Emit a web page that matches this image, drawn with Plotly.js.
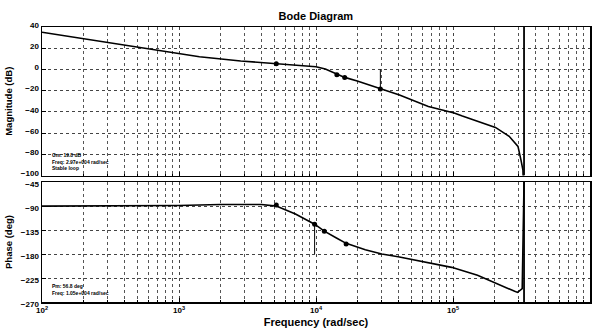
<!DOCTYPE html>
<html>
<head>
<meta charset="utf-8">
<script src="https://cdn.plot.ly/plotly-3.0.1.min.js"></script>
<style>html,body{margin:0;padding:0;background:#fff;}#chart{width:596px;height:329px;}</style>
</head>
<body>
<div id="chart"></div>
<script>
// Magnitude response (rad/sec, dB)
const magFreq = [100, 316, 1000, 1410, 2820, 5130, 7590, 1.0e4, 1.17e4, 1.41e4, 1.62e4, 2.0e4, 2.95e4, 4.07e4, 6.61e4, 1.02e5, 1.17e5, 2.04e5, 2.57e5, 2.98e5, 3.13e5, 3.24e5, 3.30e5];
const magDb   = [35, 25, 15, 12, 8, 5.3, 4, 2.5, 0.5, -4, -7.5, -11, -18.5, -24, -35, -41, -44, -54.7, -63, -72.6, -85, -95, -130];
// Phase response (rad/sec, deg)
const phaseFreq = [100, 316, 1000, 2000, 4000, 5130, 7080, 9770, 1.15e4, 1.41e4, 1.66e4, 2.29e4, 3.02e4, 3.98e4, 6.61e4, 9.77e4, 1.51e5, 2.04e5, 2.82e5, 2.96e5, 3.2e5, 3.3e5];
const phaseDeg  = [-90, -90, -89, -87, -87, -90, -105, -124, -137, -150, -160, -172, -180, -185, -196, -205, -220, -235, -250, -252, -245, -45];
// data-tip markers
const magMarkFreq = [5130, 1.42e4, 1.62e4, 2.95e4];
const magMarkDb   = [5.3, -5, -7.5, -18.5];
const phMarkFreq  = [5130, 9770, 1.15e4, 1.66e4];
const phMarkDeg   = [-88, -124, -137, -161];
// stability margins
const gmFreq = [2.95e4, 2.95e4];
const gmDb   = [0, -18.5];
const pmFreq = [9770, 9770];
const pmDeg  = [-180, -124];
const nyqFreq = [3.3e5, 3.3e5];
const nyqMag  = [-100, 40];
const nyqPh   = [-270, -45];
// ticks
const xTickVals = [1e2, 1e3, 1e4, 1e5, 1e6];
const xTickText = ['10<sup>2</sup>', '10<sup>3</sup>', '10<sup>4</sup>', '10<sup>5</sup>', '10<sup>6</sup>'];
const magTicks = [40, 20, 0, -20, -40, -60, -80, -100];
const phTicks = [-45, -90, -135, -180, -225, -270];
const gmText = ['Gm: 19.8 dB', 'Freq: 2.97e+004 rad/sec', 'Stable loop'];
const pmText = ['Pm: 56.8 deg', 'Freq: 1.05e+004 rad/sec'];

const minorVals = [];
for (let d = 2; d < 6; d++) for (let k = 2; k <= 9; k++) minorVals.push(k * Math.pow(10, d));

const F = 'Liberation Sans, Arial, sans-serif';
const line = {color: '#000', width: 1.6};
const traces = [
  {x: magFreq, y: magDb, xaxis: 'x', yaxis: 'y', mode: 'lines', line: line},
  {x: phaseFreq, y: phaseDeg, xaxis: 'x2', yaxis: 'y2', mode: 'lines', line: line},
  {x: magMarkFreq, y: magMarkDb, xaxis: 'x', yaxis: 'y', mode: 'markers', marker: {color: '#000', size: 5}},
  {x: phMarkFreq, y: phMarkDeg, xaxis: 'x2', yaxis: 'y2', mode: 'markers', marker: {color: '#000', size: 5}},
  {x: gmFreq, y: gmDb, xaxis: 'x', yaxis: 'y', mode: 'lines', line: {color: '#000', width: 1}},
  {x: pmFreq, y: pmDeg, xaxis: 'x2', yaxis: 'y2', mode: 'lines', line: {color: '#000', width: 1}},
  {x: nyqFreq, y: nyqMag, xaxis: 'x', yaxis: 'y', mode: 'lines', line: {color: '#000', width: 1.8}},
  {x: nyqFreq, y: nyqPh, xaxis: 'x2', yaxis: 'y2', mode: 'lines', line: {color: '#000', width: 1.8}}
];

const tickFont = {family: F, size: 8, color: '#000', weight: 'bold'};
const gridCommon = {showgrid: true, gridcolor: '#444', griddash: 'dot', gridwidth: 1,
  showline: true, linecolor: '#000', linewidth: 1.5, mirror: true, ticks: 'inside', ticklen: 4, tickcolor: '#000',
  zeroline: false, tickfont: tickFont};
const xCommon = Object.assign({}, gridCommon, {type: 'log', range: [2, 6], tickmode: 'array', tickvals: xTickVals, ticktext: xTickText,
  minor: {tickmode: 'array', tickvals: minorVals, showgrid: true, gridcolor: '#555', griddash: 'dot', gridwidth: 1, ticks: 'inside', ticklen: 2, tickcolor: '#000'}});

const layout = {
  width: 596, height: 329,
  margin: {l: 42, r: 6, t: 27, b: 27},
  paper_bgcolor: '#fff', plot_bgcolor: '#fff',
  showlegend: false,
  title: {text: 'Bode Diagram', font: {family: F, size: 11, color: '#000', weight: 'bold'}, x: 0.53, xanchor: 'center', y: 0.952, yanchor: 'middle', yref: 'container'},
  xaxis: Object.assign({}, xCommon, {anchor: 'y', domain: [0, 1], showticklabels: false}),
  xaxis2: Object.assign({}, xCommon, {anchor: 'y2', domain: [0, 1], matches: 'x',
    title: {text: 'Frequency (rad/sec)', font: {family: F, size: 11, color: '#000', weight: 'bold'}, standoff: 4}}),
  yaxis: Object.assign({}, gridCommon, {domain: [0.46, 1], range: [-100, 40], tickmode: 'array', tickvals: magTicks, ticklabelshift: -2,
    title: {text: 'Magnitude (dB)', font: {family: F, size: 9.5, color: '#000', weight: 'bold'}, standoff: 6}}),
  yaxis2: Object.assign({}, gridCommon, {domain: [0, 0.436], range: [-270, -45], tickmode: 'array', tickvals: phTicks, ticklabelshift: 2,
    title: {text: 'Phase (deg)', font: {family: F, size: 9.5, color: '#000', weight: 'bold'}, standoff: 6}}),
  annotations: [
    {xref: 'x domain', yref: 'y domain', x: 0.015, y: 0.02, xanchor: 'left', yanchor: 'bottom', align: 'left', showarrow: false,
     text: gmText.join('<br>'), font: {family: F, size: 5, color: '#000', weight: 'bold'}},
    {xref: 'x2 domain', yref: 'y2 domain', x: 0.015, y: 0.03, xanchor: 'left', yanchor: 'bottom', align: 'left', showarrow: false,
     text: pmText.join('<br>'), font: {family: F, size: 5, color: '#000', weight: 'bold'}}
  ]
};
Plotly.newPlot('chart', traces, layout, {staticPlot: true, displayModeBar: false});
</script>
</body>
</html>
